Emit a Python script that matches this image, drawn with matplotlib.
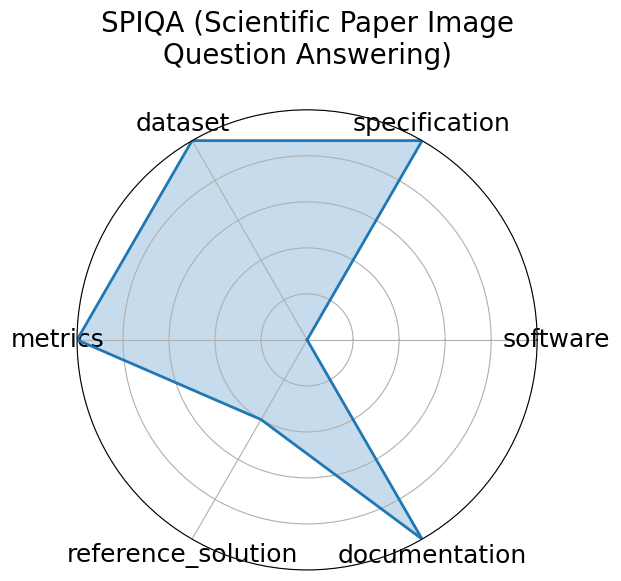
import matplotlib
matplotlib.use("Agg")
import matplotlib.pyplot as plt
import numpy as np

categories = ["software", "specification", "dataset", "metrics", "reference_solution", "documentation"]
values = [0.0, 1.0, 1.0, 1.0, 0.4, 1.0]

angles = np.linspace(0, 2 * np.pi, len(categories), endpoint=False)
ang = np.concatenate([angles, angles[:1]])
vals = values + values[:1]

fig = plt.figure(figsize=(6.21, 5.81), dpi=100)
ax = fig.add_axes([0.124, 0.019, 0.741, 0.792], polar=True)
ax.plot(ang, vals, color="#1f77b4", linewidth=2)
ax.fill(ang, vals, color="#1f77b4", alpha=0.25)
ax.set_ylim(0, 1)
ax.set_yticks([0.2, 0.4, 0.6, 0.8, 1.0])
ax.set_yticklabels([])
ax.set_xticks(angles)
ax.set_xticklabels(categories, fontsize=18)
ax.set_title("SPIQA (Scientific Paper Image\nQuestion Answering)", fontsize=20, pad=33)

fig.savefig("out.png", dpi=100)
